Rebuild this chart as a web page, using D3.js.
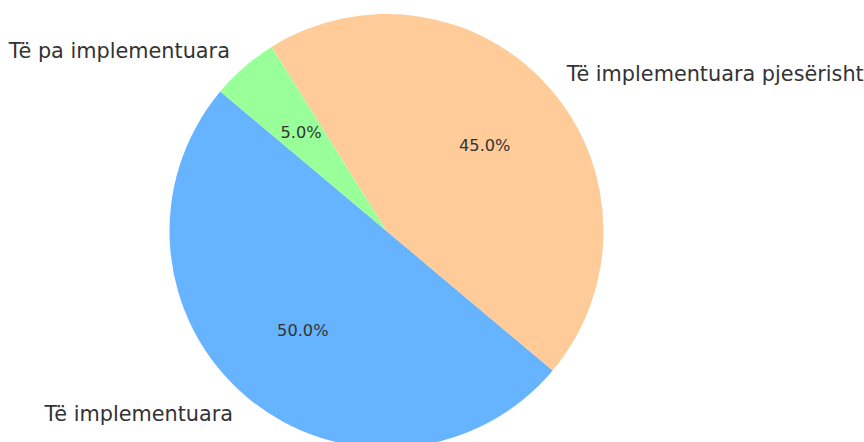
<!DOCTYPE html>
<html>
<head>
<meta charset="utf-8">
<script src="https://cdn.jsdelivr.net/npm/d3@7"></script>
<style>
  html, body { margin: 0; padding: 0; background: #fff; }
  svg { display: block; }
</style>
</head>
<body>
<svg id="chart" width="864" height="442"></svg>
<script>
const categories = ["Të implementuara", "Të implementuara pjesërisht", "Të pa implementuara"];
const values = [50, 45, 5];
const colors = ["#66b3ff", "#ffcc99", "#99ff99"];

const W = 864, H = 442;
const cx = 386.5, cy = 231, R = 217;
const startDeg = 140; // matplotlib startangle, counter-clockwise

const svg = d3.select("#chart");
const g = svg.append("g").attr("transform", `translate(${cx},${cy})`);

const toRad = d => d * Math.PI / 180;
const start = toRad(90 - startDeg);
const pie = d3.pie().sort(null).value(d => d.v)
  .startAngle(start).endAngle(start - 2 * Math.PI);

const data = categories.map((c, i) => ({ c, v: values[i], col: colors[i] }));
const arcs = pie(data);
const arc = d3.arc().innerRadius(0).outerRadius(R);

g.selectAll("path.slice").data(arcs).enter().append("path")
  .attr("class", "slice")
  .attr("d", arc)
  .attr("fill", d => d.data.col);

const total = d3.sum(values);
function pos(d, f) {
  const a = (d.startAngle + d.endAngle) / 2; // d3 angle: clockwise from 12 o'clock
  return [Math.sin(a) * R * f, -Math.cos(a) * R * f];
}

g.selectAll("text.lbl").data(arcs).enter().append("text")
  .attr("class", "lbl")
  .attr("x", d => pos(d, 1.1)[0])
  .attr("y", d => pos(d, 1.1)[1])
  .attr("text-anchor", d => pos(d, 1.1)[0] > 0 ? "start" : "end")
  .attr("dominant-baseline", "central")
  .attr("font-family", "DejaVu Sans")
  .attr("font-size", 20.8)
  .attr("fill", "#333")
  .text(d => d.data.c);

g.selectAll("text.pct").data(arcs).enter().append("text")
  .attr("class", "pct")
  .attr("x", d => pos(d, 0.6)[0])
  .attr("y", d => pos(d, 0.6)[1])
  .attr("text-anchor", "middle")
  .attr("dominant-baseline", "central")
  .attr("font-family", "DejaVu Sans")
  .attr("font-size", 16.2)
  .attr("fill", "#333")
  .text(d => (d.data.v / total * 100).toFixed(1) + "%");
</script>
</body>
</html>
